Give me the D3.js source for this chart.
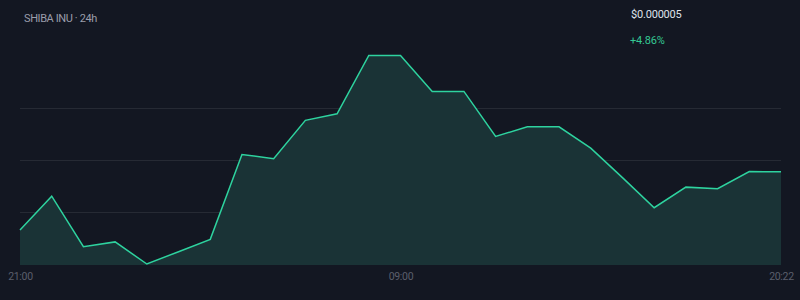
<!DOCTYPE html>
<html>
<head>
<meta charset="utf-8">
<script src="https://cdn.jsdelivr.net/npm/d3@7"></script>
<style>
  html, body { margin: 0; padding: 0; background: #131722; }
  svg { display: block; font-family: Roboto, "Noto Sans", sans-serif; }
</style>
</head>
<body>
<script>
const hours = ['21:00', '22:00', '23:00', '00:00', '01:00', '02:00', '03:00', '04:00', '05:00',
  '06:00', '07:00', '08:00', '09:00', '10:00', '11:00', '12:00', '13:00', '14:00', '15:00',
  '16:00', '17:00', '18:00', '19:00', '20:00', '20:22'];
// price in USD x 1e-6
const prices = [4.768, 4.903, 4.702, 4.721, 4.633, 4.682, 4.731, 5.069, 5.052, 5.205, 5.231,
  5.463, 5.463, 5.320, 5.320, 5.141, 5.179, 5.179, 5.094, 4.977, 4.857, 4.939, 4.933, 5.001, 5.000];
const tickLabels = ['21:00', '09:00', '20:22'];
const title = 'SHIBA INU · 24h';
const lastPrice = '$0.000005';
const change = '+4.86%';

const width = 800;
const height = 300;
const green = '#2ed39f';

const data = hours.map((h, i) => ({ t: h, v: prices[i] }));

const svg = d3.select('body').append('svg')
  .attr('width', width)
  .attr('height', height);

svg.append('rect')
  .attr('width', width)
  .attr('height', height)
  .attr('fill', '#131722');

const x = d3.scalePoint().domain(hours).range([20, 781]);
const y = d3.scaleLinear().domain(d3.extent(prices)).range([264, 55.5]);

// grid at quarter steps of the range
const [lo, hi] = y.domain();
const grid = [1, 2, 3].map((k) => lo + (hi - lo) * k / 4);
svg.append('g')
  .selectAll('line')
  .data(grid)
  .enter()
  .append('line')
  .attr('x1', 20)
  .attr('x2', 781)
  .attr('y1', (d) => Math.round(y(d)) + 0.5)
  .attr('y2', (d) => Math.round(y(d)) + 0.5)
  .attr('stroke', '#262a34')
  .attr('stroke-width', 1);

const area = d3.area()
  .x((d) => x(d.t))
  .y0(265)
  .y1((d) => y(d.v));

const line = d3.line()
  .x((d) => x(d.t))
  .y((d) => y(d.v));

svg.append('path')
  .datum(data)
  .attr('d', area)
  .attr('fill', '#1a3336');

svg.append('path')
  .datum(data)
  .attr('d', line)
  .attr('fill', 'none')
  .attr('stroke', green)
  .attr('stroke-width', 1.5)
  .attr('stroke-linejoin', 'miter');

const xAxis = d3.axisBottom(x)
  .tickValues(tickLabels)
  .tickSize(0)
  .tickPadding(0);

const axisG = svg.append('g')
  .attr('transform', 'translate(0, 270)')
  .call(xAxis);
axisG.select('.domain').remove();
axisG.selectAll('text')
  .attr('dy', null)
  .attr('y', 9.5)
  .attr('fill', '#5b5f6c')
  .style('font-size', '10.5px')
  .style('letter-spacing', '-0.3px')
  .style('font-family', 'Roboto, sans-serif');

svg.append('text')
  .attr('x', 24)
  .attr('y', 21.5)
  .attr('fill', '#9a9dab')
  .style('font-size', '11px')
  .style('letter-spacing', '-0.4px')
  .text(title);

svg.append('text')
  .attr('x', 631)
  .attr('y', 17.5)
  .attr('fill', '#dfe2ea')
  .style('font-size', '11px')
  .style('letter-spacing', '-0.2px')
  .text(lastPrice);

svg.append('text')
  .attr('x', 630)
  .attr('y', 43.5)
  .attr('fill', '#34c793')
  .style('font-size', '11px')
  .style('letter-spacing', '-0.2px')
  .text(change);
</script>
</body>
</html>
